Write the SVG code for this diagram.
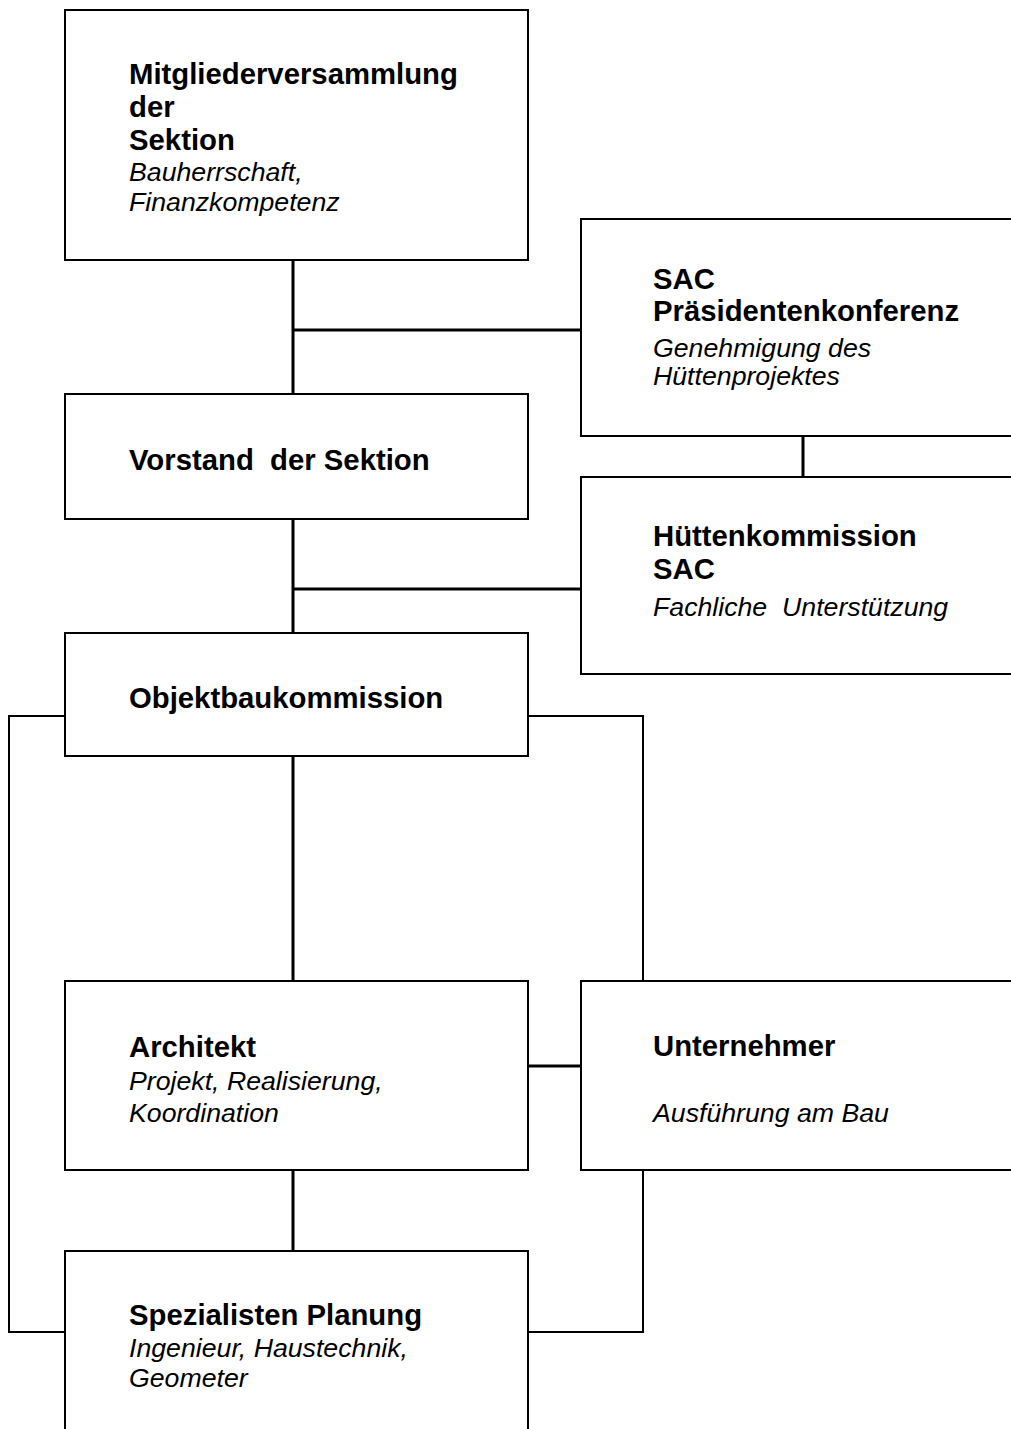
<svg xmlns="http://www.w3.org/2000/svg" width="1011" height="1429" viewBox="0 0 1011 1429">
<style>
.box{fill:#fff;stroke:#000;stroke-width:2}
.thick{fill:none;stroke:#000;stroke-width:3}
.thin{fill:none;stroke:#000;stroke-width:2}
.t{font-family:"Liberation Sans",Arial,sans-serif;font-weight:bold;font-size:29.3px;fill:#000}
.s{font-family:"Liberation Sans",Arial,sans-serif;font-style:italic;font-size:26.7px;fill:#000}
</style>
<rect width="1011" height="1429" fill="#fff"/>
<g id="connectors">
<path class="thick" d="M293 260V394M293 330H581M293 519V633M293 589H581M293 756V981M293 1170V1251M803 436V477M528 1066H581"/>
<path class="thin" d="M65 716H9V1332H65M528 716H643V981M643 1170V1332H528"/>
</g>
<g id="mitgliederversammlung">
<rect class="box" x="65" y="10" width="463" height="250"/>
<text class="t" x="129" y="84">Mitgliederversammlung</text>
<text class="t" x="129" y="117">der</text>
<text class="t" x="129" y="150">Sektion</text>
<text class="s" x="129" y="181">Bauherrschaft,</text>
<text class="s" x="129" y="211">Finanzkompetenz</text>
</g>
<g id="praesidentenkonferenz">
<rect class="box" x="581" y="219" width="440" height="217"/>
<text class="t" x="653" y="289">SAC</text>
<text class="t" x="653" y="321">Präsidentenkonferenz</text>
<text class="s" x="653" y="357">Genehmigung des</text>
<text class="s" x="653" y="385">Hüttenprojektes</text>
</g>
<g id="vorstand">
<rect class="box" x="65" y="394" width="463" height="125"/>
<text class="t" x="129" y="470" xml:space="preserve">Vorstand  der Sektion</text>
</g>
<g id="huettenkommission">
<rect class="box" x="581" y="477" width="440" height="197"/>
<text class="t" x="653" y="546">Hüttenkommission</text>
<text class="t" x="653" y="579">SAC</text>
<text class="s" x="653" y="616" xml:space="preserve">Fachliche  Unterstützung</text>
</g>
<g id="objektbaukommission">
<rect class="box" x="65" y="633" width="463" height="123"/>
<text class="t" x="129" y="708">Objektbaukommission</text>
</g>
<g id="architekt">
<rect class="box" x="65" y="981" width="463" height="189"/>
<text class="t" x="129" y="1057">Architekt</text>
<text class="s" x="129" y="1090">Projekt, Realisierung,</text>
<text class="s" x="129" y="1122">Koordination</text>
</g>
<g id="unternehmer">
<rect class="box" x="581" y="981" width="440" height="189"/>
<text class="t" x="653" y="1056">Unternehmer</text>
<text class="s" x="653" y="1122">Ausführung am Bau</text>
</g>
<g id="spezialisten">
<rect class="box" x="65" y="1251" width="463" height="200"/>
<text class="t" x="129" y="1325">Spezialisten Planung</text>
<text class="s" x="129" y="1357">Ingenieur, Haustechnik,</text>
<text class="s" x="129" y="1387">Geometer</text>
</g>
</svg>
